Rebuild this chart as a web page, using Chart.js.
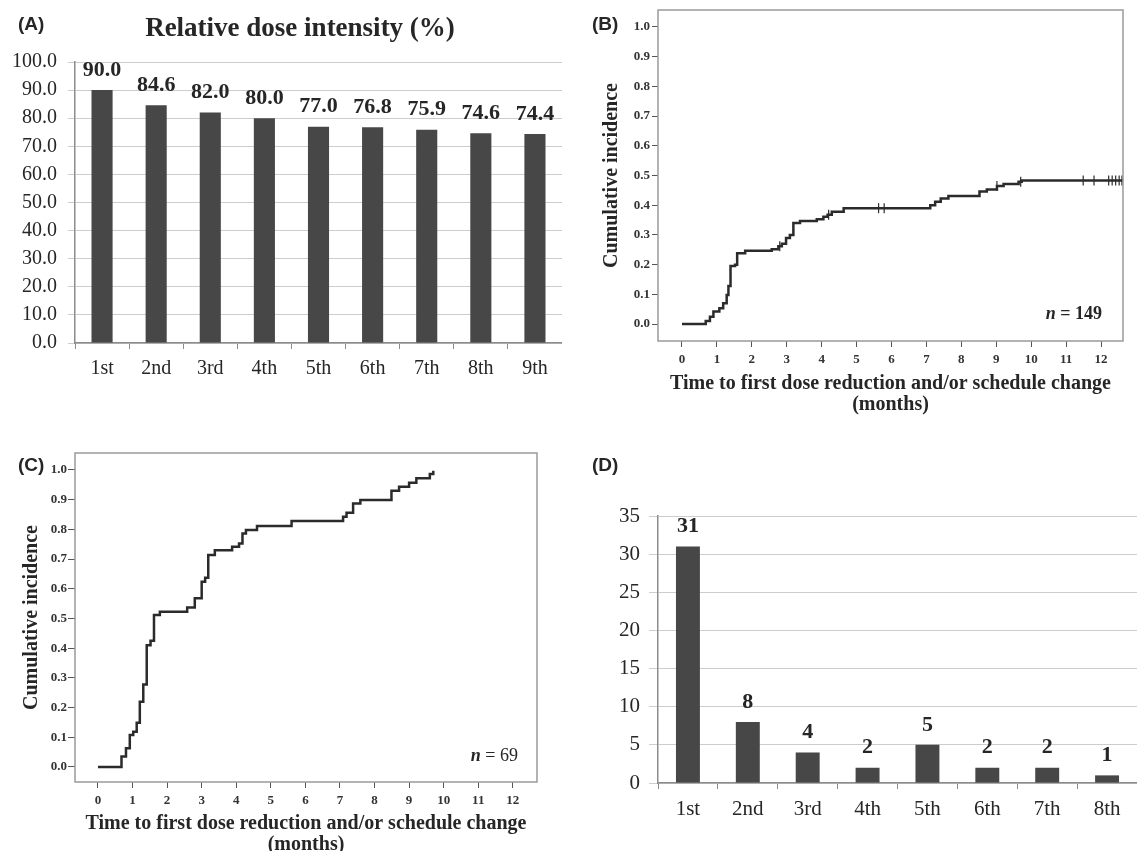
<!DOCTYPE html>
<html>
<head>
<meta charset="utf-8">
<script src="https://cdn.jsdelivr.net/npm/chart.js@4.4.1/dist/chart.umd.min.js"></script>
<style>
    html, body { margin: 0; padding: 0; background: #fff; }
    body { width: 1137px; height: 851px; position: relative; overflow: hidden; }
    canvas { position: absolute; }
    .txt { position: absolute; white-space: nowrap; color: #262626; line-height: 1; }
    .panel { font-family: 'Liberation Sans', Arial, sans-serif; font-weight: bold; font-size: 19px; transform: translateY(-50%); }
    .title { font-family: 'Liberation Serif', 'Times New Roman', serif; font-weight: bold; font-size: 27px; transform: translate(-50%, -50%); }
    .nlab { font-family: 'Liberation Serif', 'Times New Roman', serif; font-size: 18px; transform: translateY(-50%); }
</style>
</head>
<body>

<canvas id="chartA" width="562" height="400" style="left:0px;top:0px"></canvas>
<canvas id="chartB" width="547" height="415" style="left:590px;top:0px"></canvas>
<canvas id="chartC" width="560" height="440" style="left:0px;top:420px"></canvas>
<canvas id="chartD" width="567" height="431" style="left:570px;top:420px"></canvas>

<div class="txt panel" style="left:18px;top:23px">(A)</div>
<div class="txt panel" style="left:592px;top:23px">(B)</div>
<div class="txt panel" style="left:18px;top:464px">(C)</div>
<div class="txt panel" style="left:592px;top:464px">(D)</div>
<div class="txt title" style="left:300px;top:27px">Relative dose intensity (%)</div>
<div class="txt nlab" style="right:35px;top:313px;font-weight:bold"><i>n</i> = 149</div>
<div class="txt nlab" style="right:619px;top:755px"><b><i>n</i></b> = 69</div>

<script>
// ---- data ----
const courseLabelsA = ['1st', '2nd', '3rd', '4th', '5th', '6th', '7th', '8th', '9th'];
const doseIntensity = [90.0, 84.6, 82.0, 80.0, 77.0, 76.8, 75.9, 74.6, 74.4];

const courseLabelsD = ['1st', '2nd', '3rd', '4th', '5th', '6th', '7th', '8th'];
const reductionCounts = [31, 8, 4, 2, 5, 2, 2, 1];

// (B) all patients, n = 149
const allTime = [0, 0.68, 0.80, 0.90, 1.07, 1.18, 1.28, 1.33, 1.39, 1.52, 1.58, 1.81, 2.57, 2.76, 2.86, 2.98, 3.09, 3.19, 3.38, 3.86, 4.05, 4.17, 4.29, 4.63, 7.11, 7.25, 7.41, 7.63, 8.52, 8.73, 9.02, 9.21, 9.64, 9.73, 12.63];
const allIncidence = [0, 0.01, 0.025, 0.042, 0.053, 0.07, 0.098, 0.128, 0.195, 0.2, 0.238, 0.247, 0.252, 0.262, 0.27, 0.29, 0.30, 0.34, 0.347, 0.353, 0.361, 0.368, 0.378, 0.39, 0.40, 0.412, 0.423, 0.431, 0.446, 0.453, 0.465, 0.471, 0.479, 0.483, 0.483];
const allCensorTime = [2.8, 4.2, 5.63, 5.79, 9.02, 9.7, 11.49, 11.8, 12.22, 12.32, 12.42, 12.52, 12.6];
const allCensorValue = [0.262, 0.368, 0.39, 0.39, 0.465, 0.479, 0.483, 0.483, 0.483, 0.483, 0.483, 0.483, 0.483];

// (C) patients with reduction, n = 69
const redTime = [0, 0.68, 0.81, 0.92, 1.02, 1.12, 1.21, 1.31, 1.41, 1.52, 1.62, 1.79, 2.58, 2.80, 3.00, 3.10, 3.19, 3.38, 3.88, 4.08, 4.18, 4.28, 4.60, 5.60, 7.09, 7.19, 7.38, 7.59, 8.49, 8.71, 9.00, 9.21, 9.60, 9.70];
const redIncidence = [0, 0.035, 0.063, 0.108, 0.119, 0.149, 0.22, 0.278, 0.41, 0.425, 0.512, 0.523, 0.537, 0.568, 0.624, 0.637, 0.714, 0.73, 0.741, 0.752, 0.786, 0.798, 0.811, 0.828, 0.842, 0.856, 0.887, 0.899, 0.93, 0.943, 0.957, 0.972, 0.986, 0.997];

const xTitle = ['Time to first dose reduction and/or schedule change', '(months)'];

Chart.defaults.font.family = "'Liberation Serif', 'Times New Roman', serif";
Chart.defaults.color = '#262626';
Chart.defaults.animation = false;

const SERIF = "'Liberation Serif', 'Times New Roman', serif";
const BAR_COLOR = '#474747';
const LINE_COLOR = '#2b2b2b';

// value text above each bar
const valueLabels = {
    id: 'valueLabels',
    afterDatasetsDraw(chart, args, opts) {
        const ctx = chart.ctx;
        const meta = chart.getDatasetMeta(0);
        const values = chart.data.datasets[0].data;
        ctx.save();
        ctx.font = `bold ${opts.size}px ${SERIF}`;
        ctx.fillStyle = '#262626';
        ctx.textAlign = 'center';
        ctx.textBaseline = 'middle';
        meta.data.forEach( (bar, i) => {
            ctx.fillText(opts.format(values[i]), bar.x, bar.y - opts.gap);
        });
        ctx.restore();
    }
};

// square frame round the plot area of the KM panels
const frameBox = {
    id: 'frameBox',
    afterDraw(chart) {
        const a = chart.chartArea;
        const ctx = chart.ctx;
        ctx.save();
        ctx.strokeStyle = '#9a9a9a';
        ctx.lineWidth = 1.5;
        ctx.strokeRect(a.left, a.top, a.right - a.left, a.bottom - a.top);
        ctx.restore();
    }
};

function barPanel( id, cfg ) {
    return new Chart(document.getElementById(id), {
        type: 'bar',
        data: {
            labels: cfg.labels,
            datasets: [{
                data: cfg.values,
                backgroundColor: BAR_COLOR,
                barPercentage: cfg.barPct,
                categoryPercentage: 1.0
            }]
        },
        options: {
            responsive: false,
            layout: { padding: { top: cfg.top, right: 0, left: 0, bottom: 0 } },
            plugins: {
                legend: { display: false },
                tooltip: { enabled: false },
                valueLabels: { size: 22, gap: 20, format: cfg.format }
            },
            scales: {
                x: {
                    afterFit: s => { s.height = cfg.xHeight; },
                    grid: { display: true, drawOnChartArea: false, offset: true, tickLength: 6, color: '#8c8c8c' },
                    border: { color: '#8c8c8c', width: 1.5 },
                    ticks: { font: { size: cfg.fontSize }, padding: cfg.xPad, color: '#262626' }
                },
                y: {
                    min: 0,
                    max: cfg.max,
                    afterFit: s => { s.width = cfg.yWidth; },
                    grid: { color: '#cdcdcd', tickLength: cfg.yTick, lineWidth: 1 },
                    border: { color: '#8c8c8c', width: 1.5 },
                    ticks: {
                        stepSize: cfg.step,
                        font: { size: cfg.fontSize },
                        padding: cfg.yPad,
                        color: '#262626',
                        callback: cfg.tickFormat
                    }
                }
            }
        },
        plugins: [valueLabels]
    });
}

function kmPanel( id, cfg ) {
    const datasets = [{
        data: cfg.time.map( (t, i) => ({ x: t, y: cfg.value[i] }) ),
        borderColor: LINE_COLOR,
        borderWidth: 2.5,
        stepped: true,
        pointRadius: 0,
        fill: false
    }];
    if( cfg.censorTime ) {
        datasets.push({
            data: cfg.censorTime.map( (t, i) => ({ x: t, y: cfg.censorValue[i] }) ),
            showLine: false,
            pointStyle: 'line',
            rotation: 90,
            pointRadius: 5,
            borderColor: LINE_COLOR,
            borderWidth: 1.2
        });
    }
    return new Chart(document.getElementById(id), {
        type: 'line',
        data: { datasets },
        options: {
            responsive: false,
            layout: { padding: { top: cfg.top, right: cfg.right, left: 0, bottom: 0 } },
            plugins: { legend: { display: false }, tooltip: { enabled: false } },
            scales: {
                x: {
                    type: 'linear',
                    min: cfg.xMin,
                    max: cfg.xMax,
                    afterFit: s => { s.height = cfg.xHeight; },
                    grid: { display: true, drawOnChartArea: false, tickLength: 6, color: '#555' },
                    border: { display: false },
                    ticks: {
                        stepSize: 1,
                        includeBounds: false,
                        padding: cfg.xPad,
                        font: { size: 13, weight: 'bold' },
                        color: '#333',
                        callback: v => String(Math.round(v))
                    },
                    title: {
                        display: true,
                        text: xTitle,
                        font: { size: 20, weight: 'bold', lineHeight: 1.05 },
                        color: '#262626',
                        padding: { top: 0, bottom: cfg.xTitlePad }
                    }
                },
                y: {
                    min: cfg.yMin,
                    max: cfg.yMax,
                    afterFit: s => { s.width = cfg.yWidth; },
                    grid: { display: true, drawOnChartArea: false, tickLength: cfg.yTick, color: '#555' },
                    border: { display: false },
                    ticks: {
                        stepSize: 0.1,
                        includeBounds: false,
                        padding: cfg.yPad,
                        font: { size: 13, weight: 'bold' },
                        color: '#333',
                        callback: v => v.toFixed(1)
                    },
                    title: {
                        display: true,
                        text: 'Cumulative incidence',
                        font: { size: 20, weight: 'bold', lineHeight: 1.05 },
                        color: '#262626',
                        padding: { top: cfg.yTitlePad, bottom: 0 }
                    }
                }
            }
        },
        plugins: [frameBox]
    });
}

barPanel('chartA', {
    labels: courseLabelsA, values: doseIntensity,
    max: 100, step: 10, top: 62, xHeight: 57, yWidth: 75, yTick: 7,
    xPad: 8, yPad: 11, fontSize: 20, barPct: 0.39,
    format: v => v.toFixed(1), tickFormat: v => v.toFixed(1)
});

barPanel('chartD', {
    labels: courseLabelsD, values: reductionCounts,
    max: 35, step: 5, top: 96, xHeight: 68, yWidth: 88, yTick: 9,
    xPad: 8, yPad: 9, fontSize: 21, barPct: 0.4,
    format: v => String(v), tickFormat: v => String(v)
});

kmPanel('chartB', {
    time: allTime, value: allIncidence,
    censorTime: allCensorTime, censorValue: allCensorValue,
    xMin: -0.687, xMax: 12.63, yMin: -0.057, yMax: 1.057,
    top: 10, right: 14, xHeight: 74, yWidth: 68, yTick: 6,
    xPad: 5, yPad: 2, xTitlePad: 0, yTitlePad: 11.5
});

kmPanel('chartC', {
    time: redTime, value: redIncidence,
    xMin: -0.665, xMax: 12.70, yMin: -0.0505, yMax: 1.057,
    top: 33, right: 23, xHeight: 78, yWidth: 75, yTick: 7,
    xPad: 5, yPad: 1, xTitlePad: 4.5, yTitlePad: 21.5
});
</script>
</body>
</html>
